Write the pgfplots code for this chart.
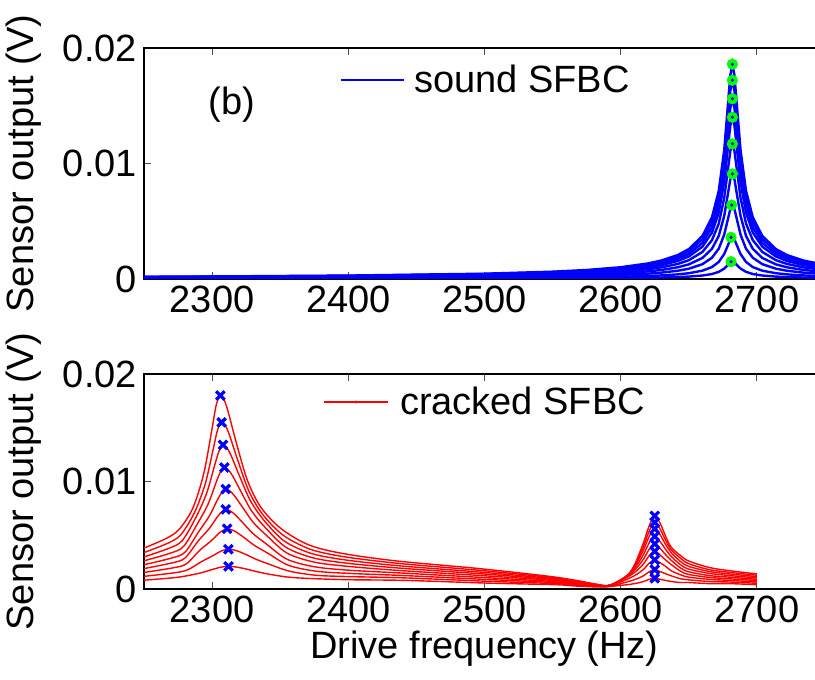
\documentclass[border=0pt]{standalone}
\usepackage{fontspec}
\setmainfont{Liberation Sans}
\usepackage{pgfplots}
\usepackage{pgfplotstable}
\pgfplotsset{compat=1.18}
\definecolor{mblue}{rgb}{0,0,1}
\definecolor{mgreen}{rgb}{0,1,0}
\definecolor{mred}{rgb}{1,0,0}

% sound SFBC: nine response curves (V)
\pgfplotstableread{
x c1 c2 c3 c4 c5 c6 c7 c8 c9
2250 0.000193 0.000179 0.000162 0.000146 0.000122 0.000095 0.000067 0.000037 0.000016
2300 0.000219 0.000203 0.000184 0.000165 0.000138 0.000107 0.000076 0.000042 0.000018
2400 0.000298 0.000275 0.000250 0.000224 0.000187 0.000146 0.000102 0.000058 0.000024
2500 0.000459 0.000425 0.000385 0.000346 0.000289 0.000225 0.000158 0.000089 0.000037
2550 0.000634 0.000587 0.000532 0.000477 0.000399 0.000310 0.000218 0.000123 0.000051
2575 0.000781 0.000722 0.000655 0.000588 0.000491 0.000382 0.000269 0.000151 0.000063
2600 0.001019 0.000943 0.000855 0.000767 0.000641 0.000499 0.000351 0.000197 0.000082
2620 0.001347 0.001245 0.001129 0.001014 0.000847 0.000659 0.000463 0.000261 0.000109
2630 0.001603 0.001483 0.001345 0.001207 0.001009 0.000784 0.000552 0.000310 0.000129
2642 0.002079 0.001923 0.001744 0.001565 0.001308 0.001017 0.000716 0.000402 0.000168
2650 0.002585 0.002391 0.002168 0.001946 0.001626 0.001265 0.000890 0.000500 0.000209
2660 0.00372 0.00344 0.00312 0.00280 0.00234 0.00182 0.00128 0.00072 0.00030
2667 0.00534 0.00494 0.00448 0.00402 0.00336 0.00261 0.00184 0.00103 0.00043
2672 0.00763 0.00705 0.00640 0.00574 0.00480 0.00373 0.00262 0.00148 0.00062
2676 0.01116 0.01032 0.00936 0.00840 0.00702 0.00546 0.00384 0.00216 0.00090
2679 0.01548 0.01431 0.01298 0.01165 0.00973 0.00757 0.00532 0.00300 0.00125
2680.5 0.01765 0.01632 0.01480 0.01329 0.01110 0.00864 0.00607 0.00342 0.00142
2682 0.0186 0.0172 0.0156 0.0140 0.0117 0.0091 0.0064 0.0036 0.0015
2683.5 0.01765 0.01632 0.01480 0.01329 0.01110 0.00864 0.00607 0.00342 0.00142
2685 0.01548 0.01431 0.01298 0.01165 0.00973 0.00757 0.00532 0.00300 0.00125
2688 0.01116 0.01032 0.00936 0.00840 0.00702 0.00546 0.00384 0.00216 0.00090
2692 0.00763 0.00705 0.00640 0.00574 0.00480 0.00373 0.00262 0.00148 0.00062
2697 0.00534 0.00494 0.00448 0.00402 0.00336 0.00261 0.00184 0.00103 0.00043
2704 0.00372 0.00344 0.00312 0.00280 0.00234 0.00182 0.00128 0.00072 0.00030
2714 0.002585 0.002391 0.002168 0.001946 0.001626 0.001265 0.000890 0.000500 0.000209
2722 0.002079 0.001923 0.001744 0.001565 0.001308 0.001017 0.000716 0.000402 0.000168
2734 0.001603 0.001483 0.001345 0.001207 0.001009 0.000784 0.000552 0.000310 0.000129
2750 0.001228 0.001135 0.001030 0.000924 0.000772 0.000601 0.000422 0.000238 0.000099
}\sound

\pgfplotsset{
  panel/.style={
    scale only axis, width=340.5pt,
    xmin=2250, xmax=2750, ymin=0, ymax=0.02,
    xtick={2300,2400,2500,2600,2700},
    xticklabels={2300,2400,2500,2600,2700},
    ytick={0,0.01,0.02}, yticklabels={0,0.01,0.02},
    scaled y ticks=false,
    tick align=inside, major tick length=3.5pt,
    tick style={black!70, line width=0.5pt},
    axis line style={line width=0.6pt},
    ticklabel style={font=\fontsize{19}{22}\selectfont},
    label style={font=\fontsize{19}{22}\selectfont},
    ylabel={Sensor output (V)},
    ylabel style={at={(axis description cs:-0.176,0.5)}, anchor=center},
    legend style={draw=none, fill=none,
      font=\fontsize{19}{22}\selectfont},
    legend cell align=left,
  },
  redc/.style={mred, line width=0.7pt, smooth, tension=0.5, forget plot},
}

\begin{document}
\begin{tikzpicture}
\useasboundingbox (-72pt,-45.5pt) rectangle (335.5pt,294.5pt);

% ---------------- top panel ----------------
\begin{axis}[panel, height=115.5pt, at={(0,155pt)}, anchor=south west,
  legend style={at={(axis description cs:0.278,0.861)}, anchor=west},
  legend image code/.code={\draw[#1] (0pt,0pt) -- (31.5pt,0pt); \path (34pt,0pt);}]
\addplot[mblue, line width=1.2pt] table[x=x, y=c1] {\sound};
\addlegendentry{sound SFBC}
\addplot[mblue, line width=1.2pt, forget plot] table[x=x, y=c2] {\sound};
\addplot[mblue, line width=1.2pt, forget plot] table[x=x, y=c3] {\sound};
\addplot[mblue, line width=1.2pt, forget plot] table[x=x, y=c4] {\sound};
\addplot[mblue, line width=1.2pt, forget plot] table[x=x, y=c5] {\sound};
\addplot[mblue, line width=1.2pt, forget plot] table[x=x, y=c6] {\sound};
\addplot[mblue, line width=1.2pt, forget plot] table[x=x, y=c7] {\sound};
\addplot[mblue, line width=1.2pt, forget plot] table[x=x, y=c8] {\sound};
\addplot[mblue, line width=1.2pt, forget plot] table[x=x, y=c9] {\sound};
\addplot[only marks, mark=*, mark size=2.6pt, mark options={fill=mgreen, draw=mgreen}, forget plot]
  coordinates {(2682,0.0186) (2682,0.0172) (2682,0.0156) (2682,0.0140) (2682,0.0117)
               (2682,0.0091) (2681.5,0.0064) (2681,0.0036) (2681,0.0015)};
\addplot[only marks, mark=*, mark size=0.6pt, mark options={fill=mblue, draw=mblue}, forget plot]
  coordinates {(2682,0.0186) (2682,0.0172) (2682,0.0156) (2682,0.0140) (2682,0.0117)
               (2682,0.0091) (2681.5,0.0064) (2681,0.0036) (2681,0.0015)};
\node[font=\fontsize{19}{22}\selectfont] at (axis cs:2314.7,0.01506) {(b)};
\end{axis}

% ---------------- bottom panel ----------------
\begin{axis}[panel, height=107.5pt, at={(0,0)}, anchor=south west,
  xlabel={Drive frequency (Hz)},
  xlabel style={at={(axis description cs:0.5,0)}, anchor=center, yshift=-30pt, inner sep=1pt},
  legend style={at={(axis description cs:0.254,0.870)}, anchor=west}]
% legend entry only (no data drawn)
\addplot[mred, line width=0.7pt, draw=none,
  legend image code/.code={\draw[mred, line width=0.7pt] (0pt,0pt) -- (32pt,0pt);
     \fill[mred] (16pt,0pt) circle (0.8pt); \path (36pt,0pt);}]
  coordinates {(2306,0.0180)};
\addlegendentry{cracked SFBC}
\addplot[redc] coordinates {
 (2246,0.00360) (2266,0.00468) (2276,0.00558) (2286,0.00756) (2294,0.01080) (2300,0.01494)
 (2303,0.01710) (2306,0.01800) (2309,0.01755) (2312,0.01638) (2318,0.01350) (2326,0.01008)
 (2336,0.00756) (2351,0.00558) (2371,0.00410) (2396,0.00330) (2436,0.00260) (2496,0.00190)
 (2546,0.00120) (2565,0.00085) (2580,0.00050) (2590,0.00030) (2597,0.00060) (2605,0.00120)
 (2610,0.00220) (2614,0.00340) (2617,0.00440) (2621,0.00590) (2625,0.00680) (2629,0.00610)
 (2633,0.00490) (2637,0.00390) (2644,0.00310) (2650,0.00260) (2665,0.00200) (2680,0.00170)
 (2700,0.00140)};
\addplot[redc] coordinates {
 (2247,0.00325) (2267,0.00423) (2277,0.00504) (2287,0.00709) (2295,0.00980) (2301,0.01312)
 (2304,0.01480) (2307,0.01550) (2310,0.01515) (2313,0.01422) (2319,0.01192) (2327,0.00911)
 (2337,0.00696) (2352,0.00502) (2372,0.00370) (2397,0.00300) (2437,0.00238) (2497,0.00173)
 (2547,0.00110) (2565,0.00078) (2580,0.00047) (2590,0.00030) (2597,0.00062) (2605,0.00126)
 (2610,0.00215) (2614,0.00318) (2617,0.00405) (2621,0.00541) (2625,0.00620) (2629,0.00556)
 (2633,0.00453) (2637,0.00366) (2644,0.00285) (2650,0.00235) (2665,0.00180) (2680,0.00155)
 (2700,0.00128)};
\addplot[redc] coordinates {
 (2248,0.00290) (2268,0.00377) (2278,0.00449) (2288,0.00663) (2296,0.00891) (2302,0.01156)
 (2305,0.01280) (2308,0.01340) (2311,0.01310) (2314,0.01240) (2320,0.01055) (2328,0.00824)
 (2338,0.00640) (2353,0.00446) (2373,0.00330) (2398,0.00270) (2438,0.00215) (2498,0.00156)
 (2548,0.00100) (2565,0.00071) (2580,0.00044) (2590,0.00030) (2597,0.00063) (2605,0.00130)
 (2610,0.00206) (2614,0.00294) (2617,0.00370) (2621,0.00491) (2625,0.00560) (2629,0.00503)
 (2633,0.00414) (2637,0.00339) (2644,0.00255) (2650,0.00210) (2665,0.00163) (2680,0.00140)
 (2700,0.00115)};
\addplot[redc] coordinates {
 (2248,0.00255) (2269,0.00332) (2279,0.00395) (2289,0.00602) (2297,0.00788) (2303,0.00993)
 (2306,0.01085) (2309,0.01130) (2312,0.01105) (2315,0.01054) (2321,0.00911) (2329,0.00726)
 (2339,0.00572) (2354,0.00390) (2374,0.00290) (2399,0.00240) (2439,0.00193) (2499,0.00140)
 (2549,0.00090) (2565,0.00064) (2580,0.00041) (2590,0.00030) (2597,0.00063) (2605,0.00127)
 (2610,0.00191) (2614,0.00263) (2617,0.00327) (2621,0.00431) (2625,0.00490) (2629,0.00440)
 (2633,0.00368) (2637,0.00304) (2644,0.00225) (2650,0.00185) (2665,0.00145) (2680,0.00125)
 (2700,0.00103)};
\addplot[redc] coordinates {
 (2248,0.00220) (2270,0.00287) (2280,0.00341) (2290,0.00530) (2298,0.00679) (2304,0.00832)
 (2307,0.00895) (2310,0.00930) (2313,0.00912) (2316,0.00874) (2322,0.00767) (2330,0.00623)
 (2340,0.00498) (2355,0.00334) (2375,0.00250) (2400,0.00210) (2440,0.00170) (2500,0.00123)
 (2550,0.00080) (2565,0.00057) (2580,0.00038) (2590,0.00030) (2597,0.00061) (2605,0.00121)
 (2610,0.00173) (2614,0.00231) (2617,0.00283) (2621,0.00371) (2625,0.00420) (2629,0.00377)
 (2633,0.00319) (2637,0.00268) (2644,0.00195) (2650,0.00160) (2665,0.00125) (2680,0.00110)
 (2700,0.00090)};
\addplot[redc] coordinates {
 (2248,0.00185) (2270,0.00241) (2280,0.00287) (2290,0.00450) (2298,0.00564) (2304,0.00674)
 (2307,0.00715) (2310,0.00740) (2313,0.00728) (2316,0.00701) (2322,0.00624) (2330,0.00516)
 (2340,0.00417) (2355,0.00277) (2375,0.00207) (2400,0.00175) (2440,0.00148) (2500,0.00106)
 (2550,0.00070) (2565,0.00050) (2580,0.00035) (2590,0.00028) (2597,0.00057) (2605,0.00111)
 (2610,0.00152) (2614,0.00197) (2617,0.00238) (2621,0.00311) (2625,0.00350) (2629,0.00315)
 (2633,0.00270) (2637,0.00228) (2644,0.00165) (2650,0.00135) (2665,0.00108) (2680,0.00095)
 (2700,0.00078)};
\addplot[redc] coordinates {
 (2248,0.00150) (2271,0.00196) (2281,0.00233) (2291,0.00361) (2299,0.00445) (2305,0.00519)
 (2308,0.00545) (2311,0.00560) (2314,0.00552) (2317,0.00535) (2323,0.00483) (2331,0.00406)
 (2341,0.00332) (2356,0.00221) (2376,0.00166) (2401,0.00145) (2441,0.00125) (2501,0.00089)
 (2551,0.00060) (2565,0.00043) (2580,0.00030) (2590,0.00026) (2597,0.00050) (2605,0.00093)
 (2610,0.00123) (2614,0.00155) (2617,0.00185) (2621,0.00241) (2625,0.00270) (2629,0.00243)
 (2633,0.00211) (2637,0.00170) (2644,0.00132) (2650,0.00110) (2665,0.00090) (2680,0.00080)
 (2700,0.00065)};
\addplot[redc] coordinates {
 (2248,0.00115) (2272,0.00150) (2282,0.00178) (2292,0.00253) (2300,0.00306) (2306,0.00349)
 (2309,0.00363) (2312,0.00370) (2315,0.00366) (2318,0.00356) (2324,0.00326) (2332,0.00278)
 (2342,0.00230) (2357,0.00165) (2377,0.00127) (2402,0.00115) (2442,0.00103) (2502,0.00072)
 (2552,0.00050) (2565,0.00036) (2580,0.00025) (2590,0.00023) (2597,0.00040) (2605,0.00067)
 (2610,0.00086) (2614,0.00106) (2617,0.00125) (2621,0.00161) (2625,0.00180) (2629,0.00162)
 (2633,0.00142) (2637,0.00123) (2644,0.00095) (2650,0.00085) (2665,0.00070) (2680,0.00065)
 (2700,0.00053)};
\addplot[redc] coordinates {
 (2248,0.00080) (2272,0.00105) (2282,0.00124) (2292,0.00151) (2300,0.00181) (2306,0.00202)
 (2309,0.00208) (2312,0.00210) (2315,0.00208) (2318,0.00204) (2324,0.00189) (2332,0.00164)
 (2342,0.00137) (2357,0.00109) (2377,0.00095) (2402,0.00086) (2442,0.00080) (2502,0.00055)
 (2552,0.00040) (2565,0.00029) (2580,0.00020) (2590,0.00020) (2597,0.00030) (2605,0.00040)
 (2610,0.00050) (2614,0.00060) (2617,0.00070) (2621,0.00090) (2625,0.00100) (2629,0.00090)
 (2633,0.00080) (2637,0.00070) (2644,0.00060) (2650,0.00060) (2665,0.00050) (2680,0.00050)
 (2700,0.00040)};
\addplot[only marks, mark=x, mark size=3pt, mblue, line width=1.6pt, forget plot]
  coordinates {(2306,0.0180) (2307,0.0155) (2308,0.0134) (2309,0.0113) (2310,0.0093)
   (2310,0.0074) (2311,0.0056) (2312,0.0037) (2312,0.0021)
   (2625,0.0068) (2625,0.0062) (2625,0.0056) (2625,0.0049) (2625,0.0042)
   (2625,0.0035) (2625,0.0027) (2625,0.0018) (2625,0.0010)};
\end{axis}
\end{tikzpicture}
\end{document}
